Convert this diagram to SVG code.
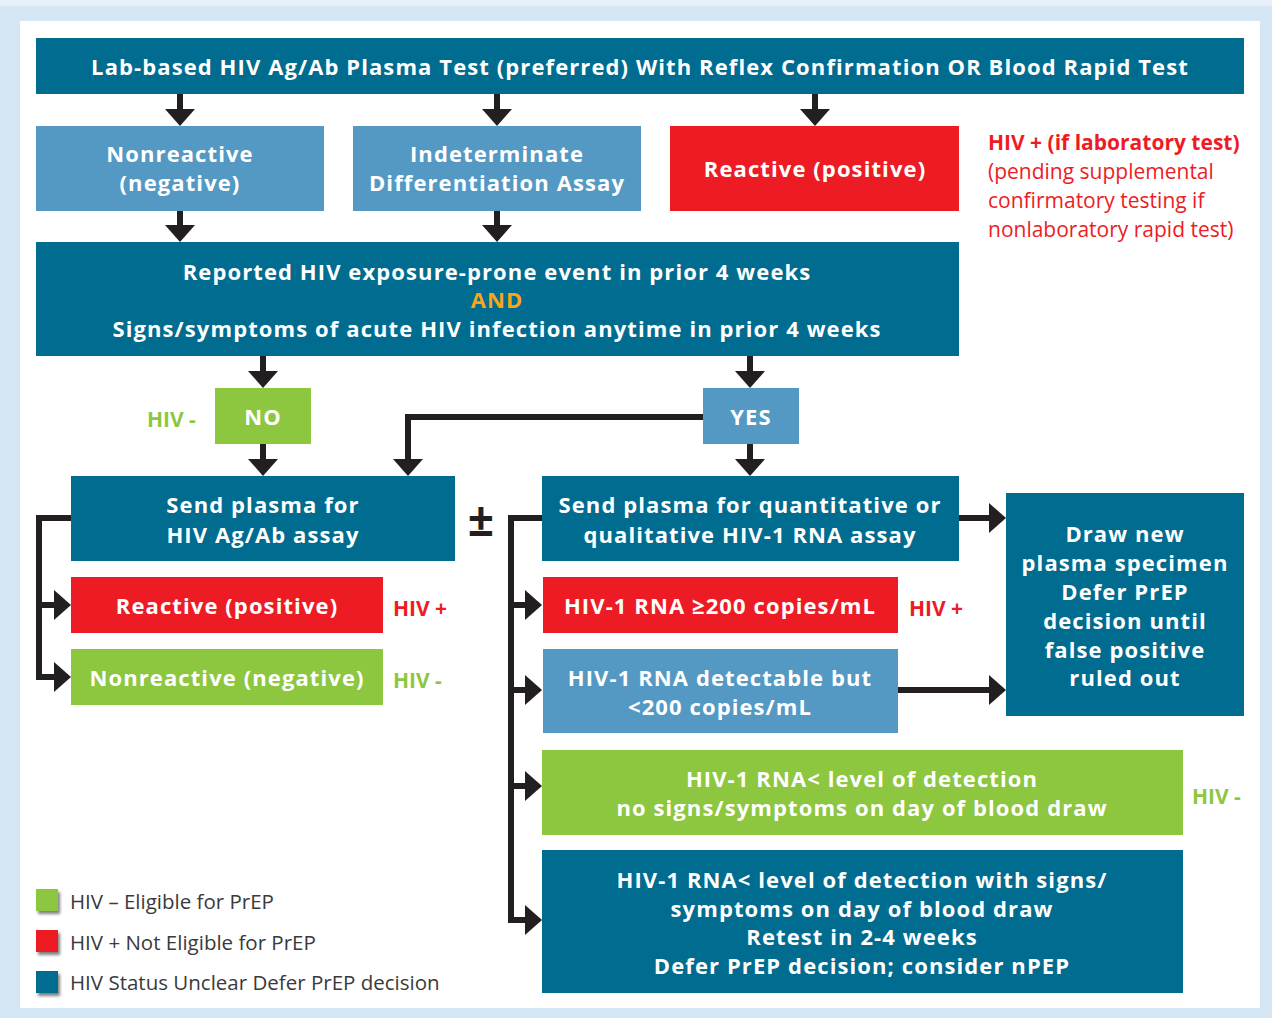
<svg xmlns="http://www.w3.org/2000/svg" width="1272" height="1018" viewBox="0 0 1272 1018">
<defs>
<marker id="ah" viewBox="0 0 17 30" refX="9" refY="15" markerWidth="17" markerHeight="30" markerUnits="userSpaceOnUse" orient="auto">
<path d="M0 0 L17 15 L0 30 Z" fill="#231f20"/>
</marker>
<filter id="sh" x="-30%" y="-30%" width="170%" height="170%">
<feGaussianBlur in="SourceAlpha" stdDeviation="1.5"/>
<feOffset dx="2" dy="3" result="b"/>
<feComponentTransfer><feFuncA type="linear" slope="0.5"/></feComponentTransfer>
<feMerge><feMergeNode/><feMergeNode in="SourceGraphic"/></feMerge>
</filter>
<style>
.dk{fill:#006c8f}
.lb{fill:#5499c3}
.rd{fill:#ed1c24}
.gr{fill:#8dc63f}
.t{font-family:"Open Sans","Liberation Sans",sans-serif;font-weight:700;font-size:22px;fill:#ffffff;text-anchor:middle;letter-spacing:1.1px}
.lab{font-family:"Open Sans","Liberation Sans",sans-serif;font-weight:700;font-size:21px}
.note{font-family:"Open Sans","Liberation Sans",sans-serif;font-size:21px;fill:#ed1c24}
.leg{font-family:"Open Sans","Liberation Sans",sans-serif;font-size:20.5px;fill:#3a3a3a}
.c{fill:none;stroke:#231f20;stroke-width:6}
</style>
</defs>
<rect x="0" y="0" width="1272" height="1018" fill="#d5e6f4"/>
<rect x="0" y="0" width="1272" height="6" fill="#e8f1f9"/>
<rect x="20" y="21" width="1240" height="987" fill="#ffffff"/>

<g id="connectors">
<path class="c" d="M180 94 V118" marker-end="url(#ah)"/>
<path class="c" d="M497 94 V118" marker-end="url(#ah)"/>
<path class="c" d="M815 94 V118" marker-end="url(#ah)"/>
<path class="c" d="M180 211 V234" marker-end="url(#ah)"/>
<path class="c" d="M497 211 V234" marker-end="url(#ah)"/>
<path class="c" d="M263 356 V380" marker-end="url(#ah)"/>
<path class="c" d="M750 356 V380" marker-end="url(#ah)"/>
<path class="c" d="M703 417 H408 V468" marker-end="url(#ah)"/>
<path class="c" d="M263 444 V468" marker-end="url(#ah)"/>
<path class="c" d="M750 444 V468" marker-end="url(#ah)"/>
<path class="c" d="M71 518 H39 V677 H63" marker-end="url(#ah)"/>
<path class="c" d="M39 605 H63" marker-end="url(#ah)"/>
<path class="c" d="M542 518 H511 V920 H534" marker-end="url(#ah)"/>
<path class="c" d="M511 605 H534" marker-end="url(#ah)"/>
<path class="c" d="M511 690 H534" marker-end="url(#ah)"/>
<path class="c" d="M511 786 H534" marker-end="url(#ah)"/>
<path class="c" d="M959 518 H998" marker-end="url(#ah)"/>
<path class="c" d="M898 690 H998" marker-end="url(#ah)"/>
</g>

<g id="top">
<rect class="dk" x="36" y="38" width="1208" height="56"/>
<text class="t" x="640" y="75">Lab-based HIV Ag/Ab Plasma Test (preferred) With Reflex Confirmation OR Blood Rapid Test</text>
</g>
<g id="nonreactive1">
<rect class="lb" x="36" y="126" width="288" height="85"/>
<text class="t" x="180" y="162">Nonreactive</text>
<text class="t" x="180" y="191">(negative)</text>
</g>
<g id="indeterminate">
<rect class="lb" x="353" y="126" width="288" height="85"/>
<text class="t" x="497" y="162">Indeterminate</text>
<text class="t" x="497" y="191">Differentiation Assay</text>
</g>
<g id="reactive1">
<rect class="rd" x="670" y="126" width="289" height="85"/>
<text class="t" x="815" y="177">Reactive (positive)</text>
</g>
<g id="note-hivpos">
<text class="note" x="988" y="150" font-weight="700">HIV + (if laboratory test)</text>
<text class="note" x="988" y="179">(pending supplemental</text>
<text class="note" x="988" y="208">confirmatory testing if</text>
<text class="note" x="988" y="237">nonlaboratory rapid test)</text>
</g>
<g id="reported">
<rect class="dk" x="36" y="242" width="923" height="114"/>
<text class="t" x="497" y="280">Reported HIV exposure-prone event in prior 4 weeks</text>
<text class="t" x="497" y="308" style="fill:#f8a51b">AND</text>
<text class="t" x="497" y="337">Signs/symptoms of acute HIV infection anytime in prior 4 weeks</text>
</g>
<g id="no">
<rect class="gr" x="215" y="388" width="96" height="56"/>
<text class="t" x="263" y="425">NO</text>
<text class="lab" x="147" y="427" fill="#8dc63f">HIV -</text>
</g>
<g id="yes">
<rect class="lb" x="703" y="388" width="96" height="56"/>
<text class="t" x="751" y="425">YES</text>
</g>
<g id="agab">
<rect class="dk" x="71" y="476" width="384" height="85"/>
<text class="t" x="263" y="513">Send plasma for</text>
<text class="t" x="263" y="543">HIV Ag/Ab assay</text>
</g>
<g id="plusminus">
<text x="481" y="536" font-family="Open Sans, Liberation Sans, sans-serif" font-weight="700" font-size="46" fill="#231f20" text-anchor="middle">±</text>
</g>
<g id="reactive2">
<rect class="rd" x="71" y="577" width="312" height="56"/>
<text class="t" x="227" y="614">Reactive (positive)</text>
<text class="lab" x="393" y="616" fill="#ed1c24">HIV +</text>
</g>
<g id="nonreactive2">
<rect class="gr" x="71" y="649" width="312" height="56"/>
<text class="t" x="227" y="686">Nonreactive (negative)</text>
<text class="lab" x="393" y="688" fill="#8dc63f">HIV -</text>
</g>
<g id="rna">
<rect class="dk" x="542" y="476" width="417" height="85"/>
<text class="t" x="750" y="513">Send plasma for quantitative or</text>
<text class="t" x="750" y="543">qualitative HIV-1 RNA assay</text>
</g>
<g id="rna200">
<rect class="rd" x="543" y="577" width="355" height="56"/>
<text class="t" x="720" y="614">HIV-1 RNA ≥200 copies/mL</text>
<text class="lab" x="909" y="616" fill="#ed1c24">HIV +</text>
</g>
<g id="rnadet">
<rect class="lb" x="543" y="649" width="355" height="84"/>
<text class="t" x="720" y="686">HIV-1 RNA detectable but</text>
<text class="t" x="720" y="715">&lt;200 copies/mL</text>
</g>
<g id="drawnew">
<rect class="dk" x="1006" y="493" width="238" height="223"/>
<text class="t" x="1125" y="542">Draw new</text>
<text class="t" x="1125" y="571">plasma specimen</text>
<text class="t" x="1125" y="600">Defer PrEP</text>
<text class="t" x="1125" y="629">decision until</text>
<text class="t" x="1125" y="658">false positive</text>
<text class="t" x="1125" y="686">ruled out</text>
</g>
<g id="rnaund">
<rect class="gr" x="542" y="750" width="641" height="85"/>
<text class="t" x="862" y="787">HIV-1 RNA&lt; level of detection</text>
<text class="t" x="862" y="816">no signs/symptoms on day of blood draw</text>
<text class="lab" x="1192" y="804" fill="#8dc63f">HIV -</text>
</g>
<g id="rnaundsym">
<rect class="dk" x="542" y="850" width="641" height="143"/>
<text class="t" x="862" y="888">HIV-1 RNA&lt; level of detection with signs/</text>
<text class="t" x="862" y="917">symptoms on day of blood draw</text>
<text class="t" x="862" y="945">Retest in 2-4 weeks</text>
<text class="t" x="862" y="974">Defer PrEP decision; consider nPEP</text>
</g>
<g id="legend">
<rect class="gr" x="36" y="889" width="22" height="22" filter="url(#sh)"/>
<text class="leg" x="70" y="909">HIV – Eligible for PrEP</text>
<rect class="rd" x="36" y="930" width="22" height="22" filter="url(#sh)"/>
<text class="leg" x="70" y="950">HIV + Not Eligible for PrEP</text>
<rect class="dk" x="36" y="971" width="22" height="22" filter="url(#sh)"/>
<text class="leg" x="70" y="990">HIV Status Unclear Defer PrEP decision</text>
</g>
</svg>
